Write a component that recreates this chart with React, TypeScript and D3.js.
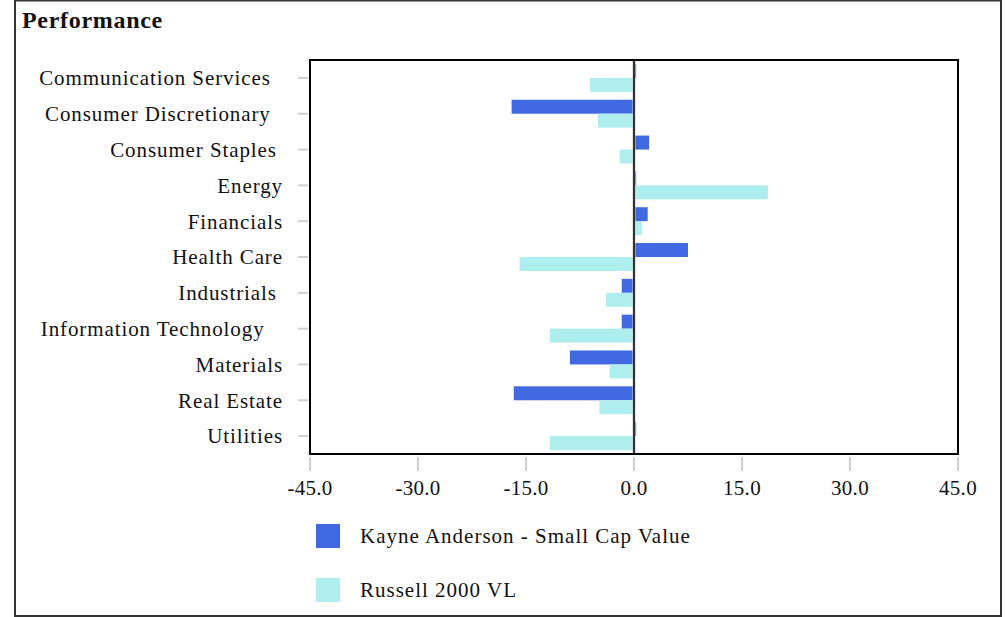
import React from "react";
import * as d3 from "d3";

const categories = [
  "Communication Services\u00a0\u00a0",
  "Consumer Discretionary\u00a0\u00a0",
  "Consumer Staples\u00a0",
  "Energy",
  "Financials",
  "Health Care",
  "Industrials\u00a0",
  "Information Technology\u00a0\u00a0\u00a0",
  "Materials",
  "Real Estate",
  "Utilities",
];
const seriesNames = ["Kayne Anderson - Small Cap Value", "Russell 2000 VL"];
const kayneValues = [0.3, -17.0, 2.1, 0.3, 1.9, 7.5, -1.7, -1.7, -8.9, -16.7, 0.3];
const russellValues = [-6.1, -5.0, -2.0, 18.6, 1.1, -15.9, -3.9, -11.7, -3.4, -4.8, -11.7];
const xTicks = [-45, -30, -15, 0, 15, 30, 45];
const colors = ["#4169E1", "#AFEEEE"];

const W = 1005;
const H = 617;
const plot = { left: 310, right: 958, top: 60, bottom: 454 };
const font = "'Liberation Serif', 'Times New Roman', serif";
const fmt = (t: number) => d3.format(".1f")(t).replace("\u2212", "-");

export default function App() {
  const x = d3.scaleLinear().domain([-45, 45]).range([plot.left, plot.right]);
  const y = d3
    .scaleBand<string>()
    .domain(categories)
    .range([plot.top, plot.bottom])
    .paddingInner(0.22)
    .paddingOuter(0.11);
  const sub = d3
    .scaleBand<string>()
    .domain(seriesNames)
    .range([0, y.bandwidth()]);
  const series = [kayneValues, russellValues];

  return (
    <svg
      width={W}
      height={H}
      style={{ position: "absolute", left: 0, top: 0, background: "#fff" }}
      fontFamily={font}
    >
      <rect x={15} y={0.5} width={986} height={615.5} fill="#fff" stroke="#333" strokeWidth={2} />
      <text x={22} y={28} fontSize={24} fontWeight="bold" fill="#111" letterSpacing={0.7}>
        Performance
      </text>

      {/* bars */}
      {series.map((vals, si) =>
        vals.map((v, i) => {
          const c = categories[i];
          const x0 = x(Math.min(0, v));
          const x1 = x(Math.max(0, v));
          return (
            <rect
              key={`${si}-${i}`}
              x={x0}
              y={(y(c) as number) + (sub(seriesNames[si]) as number)}
              width={Math.max(0, x1 - x0)}
              height={sub.bandwidth()}
              fill={colors[si]}
            />
          );
        })
      )}

      {/* zero line */}
      <line x1={x(0)} x2={x(0)} y1={plot.top} y2={plot.bottom} stroke="#c8c8c8" strokeWidth={3} />
      <line x1={x(0)} x2={x(0)} y1={plot.top} y2={plot.bottom} stroke="#000" strokeWidth={1.5} />

      {/* frame */}
      <rect
        x={plot.left}
        y={plot.top}
        width={plot.right - plot.left}
        height={plot.bottom - plot.top}
        fill="none"
        stroke="#000"
        strokeWidth={2}
      />

      {/* x ticks */}
      {xTicks.map((t) => (
        <g key={t}>
          <line x1={x(t)} x2={x(t)} y1={plot.bottom + 3} y2={plot.bottom + 17} stroke="#d0d0d0" strokeWidth={2} />
          <text x={x(t)} y={495} textAnchor="middle" fontSize={21} fill="#111" letterSpacing={0.3}>
            {fmt(t)}
          </text>
        </g>
      ))}

      {/* y ticks & labels */}
      {categories.map((c) => {
        const cy = (y(c) as number) + y.bandwidth() / 2;
        return (
          <g key={c}>
            <line x1={plot.left - 12} x2={plot.left - 2} y1={cy} y2={cy} stroke="#d0d0d0" strokeWidth={2} />
            <text x={283} y={cy} dy="0.35em" textAnchor="end" fontSize={21} fill="#111" letterSpacing={0.9}>
              {c}
            </text>
          </g>
        );
      })}

      {/* legend */}
      {seriesNames.map((n, i) => (
        <g key={n} transform={`translate(316, ${524 + i * 54})`}>
          <rect x={0} y={0} width={24} height={24} fill={colors[i]} />
          <text x={44} y={19} fontSize={21} fill="#111" letterSpacing={1}>
            {n}
          </text>
        </g>
      ))}
    </svg>
  );
}
